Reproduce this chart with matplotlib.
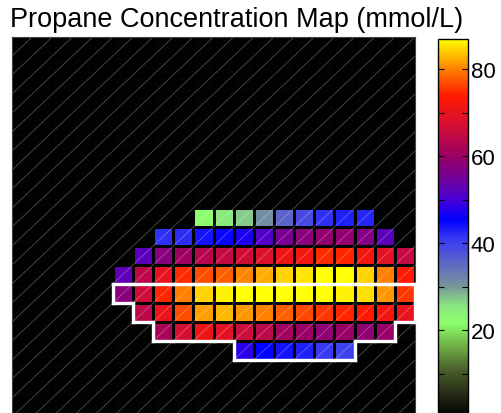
import numpy as np
import matplotlib
matplotlib.use("Agg")
import matplotlib.pyplot as plt
from matplotlib.colors import LinearSegmentedColormap
from matplotlib.collections import LineCollection

plt.rcParams['font.family'] = ['Liberation Sans', 'DejaVu Sans']

# Concentration field (mmol/L) on a 20 x 20 grid; unlisted cells are 0
n_rows, n_cols = 20, 20
first_row = 9
row_col_start = [9, 7, 6, 5, 5, 6, 7, 11]
row_values = [
    [22, 25, 27, 31, 36, 39, 41.5, 43, 42.5],
    [41.5, 42, 44, 45, 47, 51, 55.5, 58, 59, 59, 57, 52],
    [52, 57.5, 60.5, 63.5, 65, 66.5, 68, 71, 72, 75, 74.5, 72, 69, 65],
    [52.5, 64, 70, 75, 77, 78, 80.5, 82.5, 84.5, 85.5, 87, 87, 84.5, 80, 73.5],
    [58, 66.5, 74.5, 80, 84.5, 86, 86.7, 86.7, 87, 87, 86.8, 86.3, 85, 81.5, 75.5],
    [64, 70.5, 77, 81.8, 83, 81.5, 80, 78, 76.5, 75.5, 74.5, 73.5, 72, 70],
    [62, 67, 71, 69, 66, 64, 61, 60, 58.5, 60, 58.5, 59.5],
    [48, 45.5, 44, 43, 41, 40],
]
# Highlighted band (rows first..last-1)
highlight_rows = (13, 17)

vmin, vmax = 0, 87
cbar_ticks = [10, 20, 30, 40, 50, 60, 70, 80]

grid = np.zeros((n_rows, n_cols))
for k, (c0, vals) in enumerate(zip(row_col_start, row_values)):
    grid[first_row + k, c0:c0 + len(vals)] = vals

# Colour scale: black -> olive -> green -> slate -> blue -> purple -> red -> orange -> yellow
anchors = [
    (0.0, (0.0, 0.01, 0.0)),
    (5.0, (0.14, 0.16, 0.08)),
    (10.5, (0.28, 0.36, 0.16)),
    (16.0, (0.43, 0.67, 0.27)),
    (21.5, (0.55, 1.0, 0.42)),
    (25.5, (0.54, 0.90, 0.50)),
    (30.0, (0.47, 0.59, 0.60)),
    (35.5, (0.36, 0.40, 0.78)),
    (41.0, (0.22, 0.22, 0.95)),
    (45.5, (0.0, 0.0, 1.0)),
    (50.0, (0.28, 0.0, 0.84)),
    (55.0, (0.45, 0.0, 0.60)),
    (60.0, (0.60, 0.0, 0.40)),
    (68.0, (0.86, 0.06, 0.18)),
    (74.0, (1.0, 0.10, 0.0)),
    (80.5, (1.0, 0.52, 0.0)),
    (87.0, (1.0, 1.0, 0.0)),
]
cmap = LinearSegmentedColormap.from_list(
    "conc", [((v - vmin) / (vmax - vmin), c) for v, c in anchors])

fig = plt.figure(figsize=(5.02, 4.14), dpi=100)
W, H = 502, 414
ax = fig.add_axes([12 / W, (H - 418) / H, 403 / W, 380 / H])
cax = fig.add_axes([438 / W, (H - 418) / H, 30 / W, 378 / H])

mesh = ax.pcolormesh(np.arange(n_cols + 1), np.arange(n_rows + 1), grid,
                     cmap=cmap, vmin=vmin, vmax=vmax,
                     edgecolors='black', linewidth=0.8)
ax.set_xlim(0, n_cols)
ax.set_ylim(n_rows, 0)
ax.set_xticks([])
ax.set_yticks([])
for s in ax.spines.values():
    s.set_color('#444444')
    s.set_linewidth(0.8)

# Diagonal of every cell (lower-left to upper-right)
diag = [[(c, r + 1), (c + 1, r)] for r in range(n_rows) for c in range(n_cols)]
ax.add_collection(LineCollection(diag, colors=(1, 1, 1, 0.3), linewidths=0.6))

# Outline of the highlighted band, traced along the cell boundaries
mask = np.zeros_like(grid, dtype=bool)
mask[highlight_rows[0]:highlight_rows[1]] = grid[highlight_rows[0]:highlight_rows[1]] > 0
edges = []
for r in range(n_rows):
    for c in range(n_cols):
        if not mask[r, c]:
            continue
        if r == 0 or not mask[r - 1, c]:
            edges.append([(c, r), (c + 1, r)])
        if r == n_rows - 1 or not mask[r + 1, c]:
            edges.append([(c, r + 1), (c + 1, r + 1)])
        if c == 0 or not mask[r, c - 1]:
            edges.append([(c, r), (c, r + 1)])
        if c == n_cols - 1 or not mask[r, c + 1]:
            edges.append([(c + 1, r), (c + 1, r + 1)])
outline = LineCollection(edges, colors='white', linewidths=2.4,
                         capstyle='projecting', clip_on=False, zorder=5)
ax.add_collection(outline)

cb = fig.colorbar(mesh, cax=cax)
cb.set_ticks(cbar_ticks)
cb.set_ticklabels([str(t) if t % 20 == 0 else '' for t in cbar_ticks])
cax.tick_params(direction='in', length=4, width=0.8, left=True, right=True,
                labelsize=16, pad=2, colors='black')
cb.outline.set_linewidth(1.0)

fig.text(10 / W, 1 - 27 / H, "Propane Concentration Map (mmol/L)",
         fontsize=19.5, ha='left', va='baseline')

fig.savefig("out.png", dpi=100)
